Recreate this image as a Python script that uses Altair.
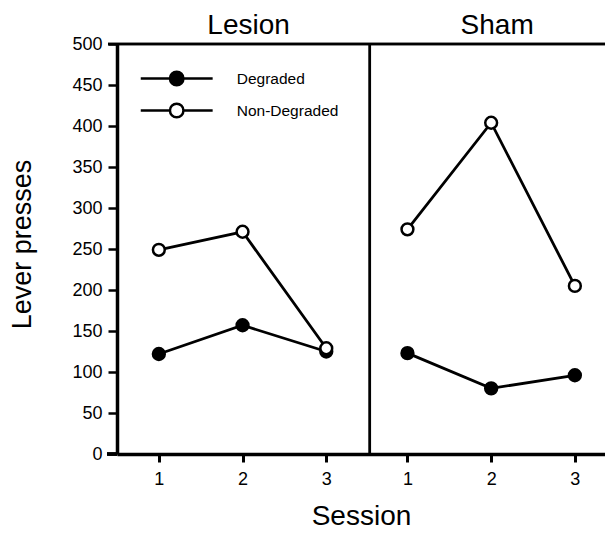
import altair as alt
import pandas as pd

# ---- data ----
sessions = [1, 2, 3]
groups = ["Lesion", "Sham"]
series = ["Degraded", "Non-Degraded"]
lesion_degraded = [122, 157, 125]
lesion_nondegraded = [249, 271, 129]
sham_degraded = [123, 80, 96]
sham_nondegraded = [274, 404, 205]
y_ticks = [0, 50, 100, 150, 200, 250, 300, 350, 400, 450, 500]

rows = []
for g, deg, nondeg in [("Lesion", lesion_degraded, lesion_nondegraded),
                       ("Sham", sham_degraded, sham_nondegraded)]:
    for s, v in zip(sessions, deg):
        rows.append({"group": g, "series": "Degraded", "session": s, "presses": v})
    for s, v in zip(sessions, nondeg):
        rows.append({"group": g, "series": "Non-Degraded", "session": s, "presses": v})
df = pd.DataFrame(rows)
titles_df = pd.DataFrame({"group": groups, "session": [2, 2]})

OFF = 2.97          # horizontal shift of the Sham panel (in session units)
DIV = 3.52          # panel divider
W, H = 488, 410
FONT = "Liberation Sans"

xscale = alt.Scale(domain=[0.5, 6.33], nice=False, zero=False)
yscale = alt.Scale(domain=[0, 500], nice=False)

tick_vals = [s for s in sessions] + [s + OFF for s in sessions]

x_axis = alt.Axis(
    values=tick_vals,
    labelExpr=f"format(datum.value > {DIV} ? datum.value - {OFF} : datum.value, 'd')",
    title="Session", grid=False,
    domainColor="black", domainWidth=3.5,
    tickColor="black", tickWidth=3, tickSize=8,
    labelFont=FONT, labelFontSize=18, labelColor="black", labelPadding=8,
    titleFont=FONT, titleFontSize=28, titleFontWeight="normal", titleColor="black",
    titleBaseline="alphabetic", titleY=70,
)
y_axis = alt.Axis(
    values=y_ticks, title="Lever presses", grid=False,
    domainColor="black", domainWidth=3.5,
    tickColor="black", tickWidth=2.5, tickSize=9,
    labelFont=FONT, labelFontSize=18, labelColor="black", labelPadding=6,
    titleFont=FONT, titleFontSize=27, titleFontWeight="normal", titleColor="black",
    titlePadding=35, titleY=200,
)

base = alt.Chart(df).transform_calculate(
    xpos=f"datum.session + (datum.group === 'Sham' ? {OFF} : 0)"
)

lines = base.mark_line(color="black", strokeWidth=2.8).encode(
    x=alt.X("xpos:Q", scale=xscale, axis=x_axis),
    y=alt.Y("presses:Q", scale=yscale, axis=y_axis),
    detail=["group:N", "series:N"],
    order="session:Q",
)

legend_symbol = "M-5.33,0L-1,0M1,0L5.33,0M-1,0A1,1,0,1,1,1,0A1,1,0,1,1,-1,0Z"

points = base.mark_point(shape="circle", stroke="black", strokeWidth=2.5,
                         size=140, opacity=1, fillOpacity=1).encode(
    x=alt.X("xpos:Q", scale=xscale),
    y=alt.Y("presses:Q", scale=yscale),
    fill=alt.Fill("series:N", scale=alt.Scale(domain=series, range=["black", "white"]),
                  legend=alt.Legend(
                      title=None, orient="none", legendX=51.7, legendY=26.5,
                      padding=0, symbolType=legend_symbol, symbolSize=182,
                      symbolStrokeColor="black", symbolStrokeWidth=2.5,
                      labelFont=FONT, labelFontSize=15.5,
                      labelColor="black", labelOffset=52, rowPadding=8,
                  )),
)

panel_titles = alt.Chart(titles_df).transform_calculate(
    xpos=f"datum.session + (datum.group === 'Sham' ? {OFF} : 0)"
).mark_text(font=FONT, fontSize=28, color="black", baseline="alphabetic", dx=6).encode(
    x=alt.X("xpos:Q", scale=xscale),
    y=alt.value(-10),
    text="group:N",
)

top_line = alt.Chart(titles_df).mark_rule(color="black", strokeWidth=2.5).encode(
    x=alt.value(-9), x2=alt.value(W), y=alt.value(0)
)
bottom_ext = alt.Chart(titles_df).mark_rule(color="black", strokeWidth=3.5).encode(
    x=alt.value(-10), x2=alt.value(0), y=alt.value(H)
)
divider = alt.Chart(titles_df).mark_rule(color="black", strokeWidth=2.5).encode(
    x=alt.datum(DIV, scale=xscale), y=alt.value(0), y2=alt.value(H)
)

chart = alt.layer(lines, points, divider, top_line, bottom_ext, panel_titles).properties(
    width=W, height=H,
    autosize=alt.AutoSizeParams(type="none"),
    padding={"left": 109, "top": 36, "right": 0, "bottom": 76},
).configure_view(strokeWidth=0).configure(background="white")

chart.save("out.html", embed_options={"renderer": "svg", "actions": False})
